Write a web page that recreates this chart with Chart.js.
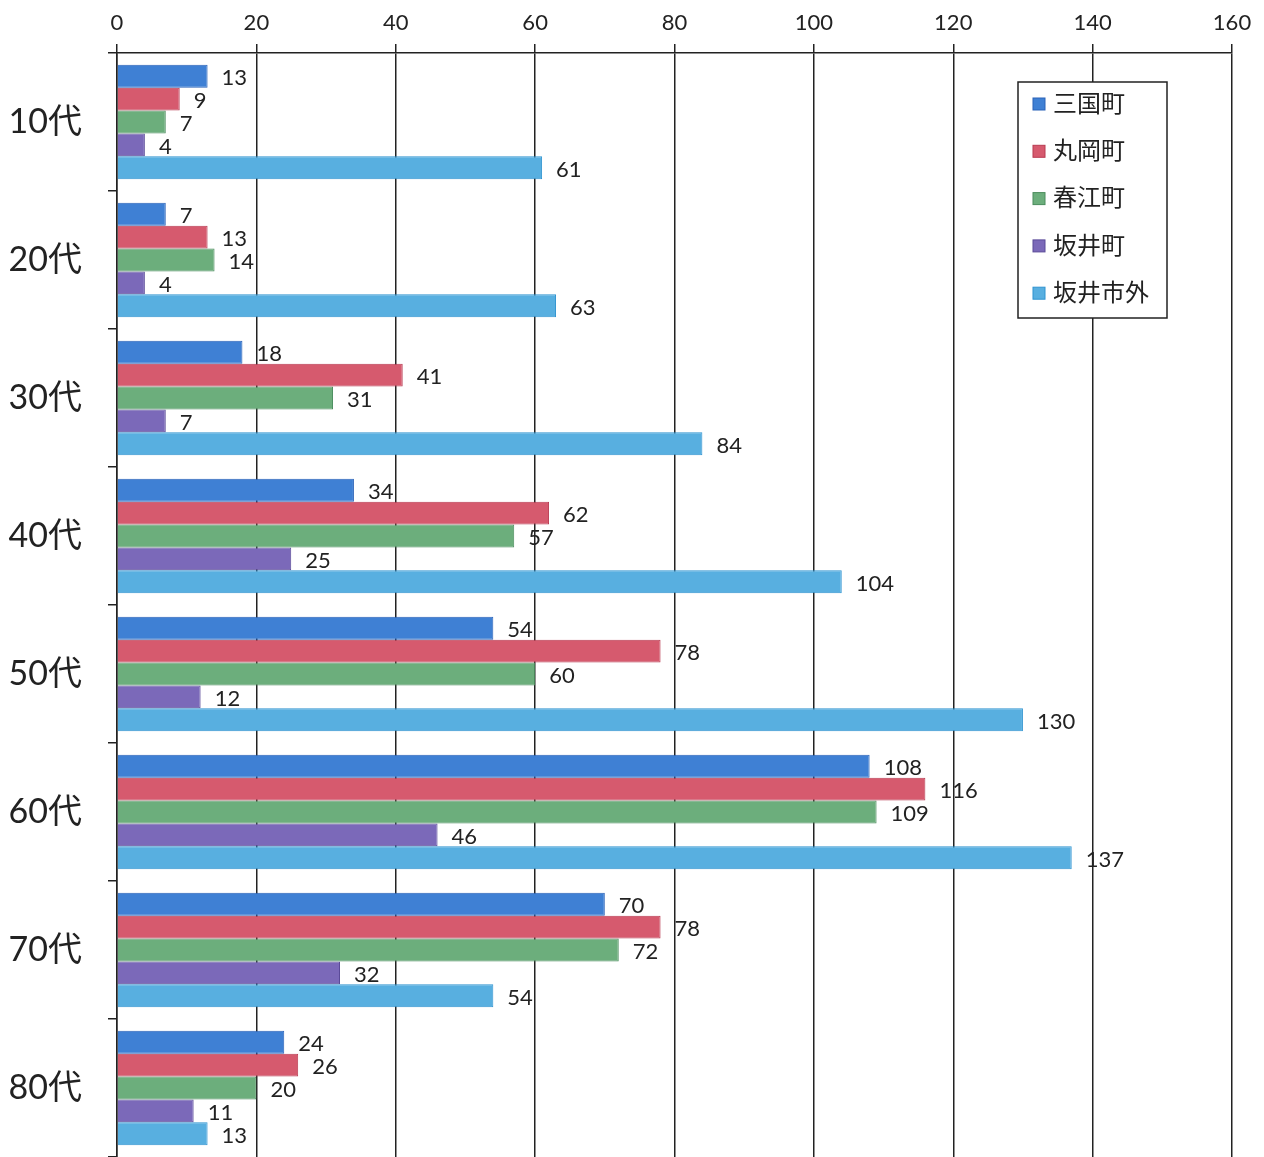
<!DOCTYPE html>
<html>
<head>
<meta charset="utf-8">
<script src="https://cdn.jsdelivr.net/npm/chart.js@4"></script>
<style>
  html, body { margin: 0; padding: 0; background: #fff; }
  #wrap { width: 1264px; height: 1157px; }
</style>
</head>
<body>
<div id="wrap"><canvas id="c"></canvas></div>
<script>
// --- data ---
const ageGroups = ['10代', '20代', '30代', '40代', '50代', '60代', '70代', '80代'];
const seriesNames = ['三国町', '丸岡町', '春江町', '坂井町', '坂井市外'];
const mikuni   = [13, 7, 18, 34, 54, 108, 70, 24];
const maruoka  = [9, 13, 41, 62, 78, 116, 78, 26];
const harue    = [7, 14, 31, 57, 60, 109, 72, 20];
const sakai    = [4, 4, 7, 25, 12, 46, 32, 11];
const outside  = [61, 63, 84, 104, 130, 137, 54, 13];
const xTicks = [0, 20, 40, 60, 80, 100, 120, 140, 160];

const fills   = ['#3f80d4', '#d65a6e', '#6cae7c', '#7b69b9', '#58afe0'];
const borders = ['#2a62b8', '#b83a50', '#4a8c5c', '#5a4a98', '#2f93d0'];

const FONT = 'Lato, "Noto Sans CJK JP", sans-serif';

// value labels at bar ends
const valueLabels = {
  id: 'valueLabels',
  afterDatasetsDraw(chart) {
    const ctx = chart.ctx;
    ctx.save();
    ctx.font = '22px ' + FONT;
    ctx.fillStyle = '#222';
    ctx.textAlign = 'left';
    ctx.textBaseline = 'middle';
    chart.data.datasets.forEach((ds, i) => {
      chart.getDatasetMeta(i).data.forEach((bar, j) => {
        ctx.fillText(String(ds.data[j]), bar.x + 14, bar.y + 2);
      });
    });
    ctx.restore();
  }
};

// legend box inside plot
const boxLegend = {
  id: 'boxLegend',
  afterDraw(chart) {
    const ctx = chart.ctx;
    const x0 = 1018, y0 = 82, w = 149, h = 236;
    ctx.save();
    ctx.fillStyle = '#fff';
    ctx.fillRect(x0, y0, w, h);
    ctx.strokeStyle = '#222';
    ctx.lineWidth = 1.5;
    ctx.strokeRect(x0, y0, w, h);
    ctx.font = '24px ' + FONT;
    ctx.textBaseline = 'middle';
    ctx.textAlign = 'left';
    chart.data.datasets.forEach((ds, i) => {
      const y = y0 + 22 + i * 47.3;
      ctx.fillStyle = ds.backgroundColor;
      ctx.fillRect(x0 + 15, y - 6, 12, 12);
      ctx.strokeStyle = ds.borderColor;
      ctx.lineWidth = 1;
      ctx.strokeRect(x0 + 15, y - 6, 12, 12);
      ctx.fillStyle = '#222';
      ctx.fillText(ds.label, x0 + 35, y);
    });
    ctx.restore();
  }
};

const allSeries = [mikuni, maruoka, harue, sakai, outside];

new Chart(document.getElementById('c'), {
  type: 'bar',
  data: {
    labels: ageGroups,
    datasets: seriesNames.map((name, i) => ({
      label: name,
      data: allSeries[i],
      backgroundColor: fills[i],
      borderColor: borders[i],
      borderWidth: 1,
      barPercentage: 1.0,
      categoryPercentage: 0.83
    }))
  },
  options: {
    indexAxis: 'y',
    responsive: true,
    maintainAspectRatio: false,
    animation: false,
    layout: { padding: { left: 0, right: 32, top: 0, bottom: 0 } },
    plugins: {
      legend: { display: false },
      tooltip: { enabled: false }
    },
    scales: {
      x: {
        position: 'top',
        min: 0,
        max: 160,
        afterBuildTicks(axis) { axis.ticks = xTicks.map(v => ({ value: v })); },
        afterFit(axis) { axis.height = 53; },
        ticks: {
          font: { size: 22, family: FONT },
          color: '#222',
          padding: 8
        },
        grid: {
          color: '#222',
          lineWidth: 1.5,
          tickLength: 9,
          drawTicks: true
        },
        border: { color: '#222', width: 1.5 }
      },
      y: {
        afterFit(axis) {
          axis.width = 117;
          axis.paddingTop = 0;
          axis.paddingBottom = 0;
        },
        ticks: {
          font: { size: 34, family: FONT },
          color: '#222',
          padding: 26
        },
        grid: {
          offset: true,
          drawOnChartArea: false,
          color: '#222',
          lineWidth: 1.5,
          tickLength: 9
        },
        border: { color: '#222', width: 1.5 }
      }
    }
  },
  plugins: [valueLabels, boxLegend]
});
</script>
</body>
</html>
